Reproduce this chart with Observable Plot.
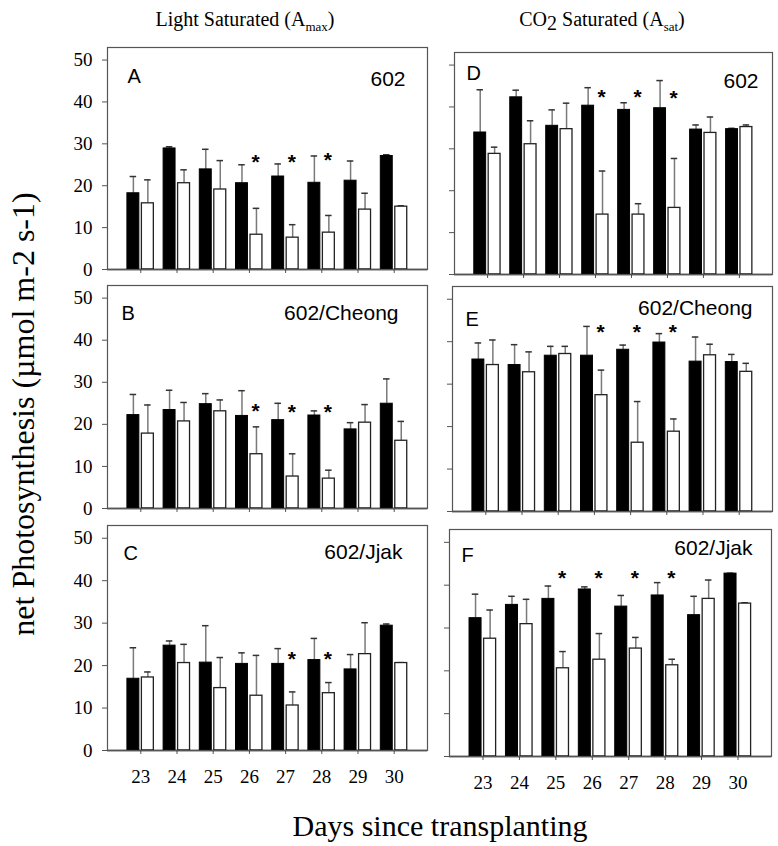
<!DOCTYPE html>
<html><head><meta charset="utf-8">
<script src="https://cdn.jsdelivr.net/npm/d3@7"></script>
<script src="https://cdn.jsdelivr.net/npm/@observablehq/plot@0.6"></script>
<style>
html,body{margin:0;padding:0;background:#fff;}
#page{position:relative;width:778px;height:846px;overflow:hidden;background:#fff;}
.panel{position:absolute;}
#overlay{position:absolute;left:0;top:0;}
</style></head><body><div id="page"></div>
<script>
// ---------------- data ----------------
const days = [23, 24, 25, 26, 27, 28, 29, 30];
const yTicks = [0, 10, 20, 30, 40, 50];
const panelLetters = ["A", "B", "C", "D", "E", "F"];
const panelNames = ["602", "602/Cheong", "602/Jjak", "602", "602/Cheong", "602/Jjak"];
const columnTitleLeft = "Light Saturated (A";
const columnSubLeft = "max";
const columnTitleRight = "CO";
const columnSubRight = "sat";
const yTitle = "net Photosynthesis (µmol m-2 s-1)";
const xTitle = "Days since transplanting";

// Panel A : light saturated, 602
const filledA = [18.2, 28.9, 23.9, 20.6, 22.2, 20.7, 21.2, 27.1];
const filledTopA = [22.2, 29.3, 28.7, 25.0, 25.2, 27.1, 25.9, 27.4];
const openA = [15.8, 20.6, 19.1, 8.3, 7.6, 8.8, 14.3, 15.0];
const openTopA = [21.4, 23.8, 26.0, 14.6, 10.7, 12.9, 18.2, 15.2];
const starDaysA = [26, 27, 28];
const starLevelA = [27.0, 27.0, 27.5];

// Panel B : light saturated, 602/Cheong
const filledB = [22.2, 23.4, 24.8, 22.0, 21.0, 22.1, 18.8, 24.9];
const filledTopB = [27.1, 28.1, 27.3, 28.0, 25.0, 23.2, 20.4, 30.8];
const openB = [17.8, 20.7, 23.1, 12.9, 7.6, 7.1, 20.4, 16.1];
const openTopB = [24.6, 25.2, 25.8, 19.4, 13.0, 9.1, 24.7, 20.7];
const starDaysB = [26, 27, 28];
const starLevelB = [24.5, 24.2, 24.2];

// Panel C : light saturated, 602/Jjak
const filledC = [16.9, 24.7, 20.7, 20.4, 20.4, 21.3, 19.1, 29.4];
const filledTopC = [24.2, 25.8, 29.4, 23.0, 24.0, 26.4, 22.6, 29.8];
const openC = [17.2, 20.6, 14.7, 12.9, 10.6, 13.5, 22.7, 20.6];
const openTopC = [18.5, 25.0, 21.9, 22.4, 13.8, 16.0, 30.1, 20.7];
const starDaysC = [27, 28];
const starLevelC = [23.0, 23.0];

// Panel D : CO2 saturated, 602
const filledD = [33.9, 42.3, 35.5, 40.3, 39.3, 39.7, 34.6, 34.7];
const filledTopD = [44.1, 44.0, 39.3, 44.6, 41.0, 46.3, 35.7, 34.9];
const openD = [28.8, 31.1, 34.7, 14.3, 14.3, 15.9, 33.8, 35.2];
const openTopD = [30.4, 36.7, 40.9, 24.7, 16.9, 27.7, 37.6, 35.7];
const starDaysD = [26, 27, 28];
const starLevelD = [43.8, 43.8, 43.6];

// Panel E : CO2 saturated, 602/Cheong
const filledE = [35.8, 34.5, 36.7, 36.7, 38.1, 39.8, 35.3, 35.2];
const filledTopE = [39.7, 39.3, 38.9, 43.6, 39.2, 41.9, 41.1, 37.0];
const openE = [34.5, 32.8, 37.1, 27.4, 16.2, 18.8, 36.8, 32.9];
const openTopE = [40.4, 37.6, 38.9, 33.3, 25.9, 21.8, 39.4, 34.9];
const starDaysE = [26, 27, 28];
const starLevelE = [43.7, 43.7, 43.7];

// Panel F : CO2 saturated, 602/Jjak
const filledF = [32.3, 35.4, 36.8, 39.0, 35.0, 37.6, 33.0, 42.7];
const filledTopF = [37.9, 37.4, 39.8, 39.6, 37.6, 40.6, 37.4, 42.8];
const openF = [27.5, 30.9, 20.6, 22.6, 25.2, 21.3, 36.8, 35.7];
const openTopF = [34.2, 36.7, 24.5, 28.7, 27.8, 22.7, 41.2, 35.9];
const starDaysF = [25, 26, 27, 28];
const starLevelF = [43.0, 43.0, 43.0, 43.0];

// ---------------- build ----------------
const seriesByPanel = {
  A: [filledA, filledTopA, openA, openTopA, starDaysA, starLevelA],
  B: [filledB, filledTopB, openB, openTopB, starDaysB, starLevelB],
  C: [filledC, filledTopC, openC, openTopC, starDaysC, starLevelC],
  D: [filledD, filledTopD, openD, openTopD, starDaysD, starLevelD],
  E: [filledE, filledTopE, openE, openTopE, starDaysE, starLevelE],
  F: [filledF, filledTopF, openF, openTopF, starDaysF, starLevelF]
};

// layout (frame boxes in page pixels)
const layout = {
  A: {left: 107, top: 47,  w: 320, h: 222, col: 0, bottom: false, L: [20, 29], N: [-22, 32]},
  B: {left: 107, top: 285, w: 320, h: 223, col: 0, bottom: false, L: [14, 28], N: [-29, 28]},
  C: {left: 107, top: 525, w: 320, h: 225, col: 0, bottom: true,  L: [16, 28], N: [-25, 27]},
  D: {left: 454, top: 52,  w: 318, h: 222, col: 1, bottom: false, L: [12, 21], N: [-14, 29]},
  E: {left: 452, top: 286, w: 320, h: 225, col: 1, bottom: false, L: [13, 33], N: [-20, 22]},
  F: {left: 449, top: 529, w: 322, h: 227, col: 1, bottom: true,  L: [12, 26], N: [-19, 19]}
};

const SERIF = "'Liberation Serif','Times New Roman',serif";
const SANS = "'Liberation Sans',Arial,Helvetica,sans-serif";
const page = document.getElementById("page");

panelLetters.forEach((id, i) => {
  const [fm, ft, om, ot, sd, sl] = seriesByPanel[id];
  const L = layout[id];
  const filled = days.map((d, k) => ({day: d, mean: fm[k], top: ft[k], c: d - 0.205}));
  const open = days.map((d, k) => ({day: d, mean: om[k], top: ot[k], c: d + 0.195}));
  const errs = filled.concat(open);
  const stars = sd.map((d, k) => ({day: d, level: sl[k]}));
  const ml = L.col === 0 ? 50 : 12, mr = 6, mt = 6, mb = L.bottom ? 40 : 8;

  const chart = Plot.plot({
    width: ml + L.w + mr,
    height: mt + L.h + mb,
    marginLeft: ml, marginRight: mr, marginTop: mt, marginBottom: mb,
    x: {type: "linear", domain: [22.08, 30.92]},
    y: {domain: [0, 53]},
    style: {background: "transparent", fontFamily: SERIF, overflow: "visible"},
    marks: [
      Plot.axisY(yTicks, {tickSize: 5, tickPadding: 10, fontSize: 19, fontFamily: SERIF,
        stroke: "#555", label: null,
        tickFormat: L.col === 0 ? (d => String(d)) : (() => "")}),
      Plot.axisX(days, {tickSize: 4, tickPadding: 15, fontSize: 19, fontFamily: SERIF,
        stroke: "#555", label: null,
        tickFormat: L.bottom ? (d => String(d)) : (() => "")}),
      Plot.ruleX(errs, {x: "c", y1: "mean", y2: "top", stroke: "#7a7a7a", strokeWidth: 1.5}),
      Plot.ruleY(errs, {y: "top", x1: d => d.c - 0.09, x2: d => d.c + 0.09, stroke: "#333", strokeWidth: 1.5}),
      Plot.rect(filled, {x1: d => d.day - 0.37, x2: d => d.day - 0.04, y1: 0, y2: "mean",
        fill: "black", stroke: "black", strokeWidth: 1}),
      Plot.rect(open, {x1: d => d.day + 0.03, x2: d => d.day + 0.36, y1: 0, y2: "mean",
        fill: "white", stroke: "#222", strokeWidth: 1.3}),
      Plot.text(stars, {x: d => d.day + 0.17, y: "level", text: () => "*", fontSize: 21,
        fontWeight: "bold", fontFamily: SANS, fill: "black", dy: 6}),
      Plot.text([id], {frameAnchor: "top-left", text: d => d, textAnchor: "start", lineAnchor: "middle",
        dx: L.L[0], dy: L.L[1], fontSize: 20, fontFamily: SANS, fill: "black"}),
      Plot.text([panelNames[i]], {frameAnchor: "top-right", text: d => d, textAnchor: "end", lineAnchor: "middle",
        dx: L.N[0], dy: L.N[1], fontSize: 21, fontFamily: SANS, fill: "black"}),
      Plot.ruleY([0], {stroke: "black", strokeWidth: 1.3}),
      Plot.frame({stroke: "#555", strokeWidth: 1.2})
    ]
  });
  const wrap = document.createElement("div");
  wrap.className = "panel";
  wrap.style.left = (L.left - ml) + "px";
  wrap.style.top = (L.top - mt) + "px";
  wrap.appendChild(chart);
  page.appendChild(wrap);
});

// titles overlay
const svg = d3.select(page).append("svg").attr("id", "overlay")
  .attr("width", 778).attr("height", 846)
  .style("pointer-events", "none")
  .attr("font-family", SERIF).attr("fill", "black");

const t1 = svg.append("text").attr("x", 245).attr("y", 26).attr("text-anchor", "middle").attr("font-size", 20);
t1.append("tspan").text(columnTitleLeft);
t1.append("tspan").attr("font-size", 13).attr("dy", 5).text(columnSubLeft);
t1.append("tspan").attr("dy", -5).text(")");

const t2 = svg.append("text").attr("x", 602).attr("y", 26).attr("text-anchor", "middle").attr("font-size", 20);
t2.append("tspan").text(columnTitleRight);
t2.append("tspan").attr("dy", 4).text("2");
t2.append("tspan").attr("dy", -4).text(" Saturated (A");
t2.append("tspan").attr("font-size", 13).attr("dy", 5).text(columnSubRight);
t2.append("tspan").attr("dy", -5).text(")");

svg.append("text").attr("transform", "translate(34,414) rotate(-90)")
  .attr("text-anchor", "middle").attr("font-size", 32).text(yTitle);

svg.append("text").attr("x", 440).attr("y", 836).attr("text-anchor", "middle")
  .attr("font-size", 30).text(xTitle);
</script>
</body></html>
